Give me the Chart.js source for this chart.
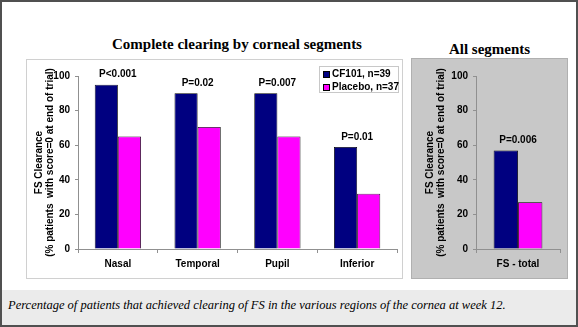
<!DOCTYPE html>
<html lang="en">
<head>
<meta charset="UTF-8">
<title>Complete clearing by corneal segments</title>
<script src="https://cdn.jsdelivr.net/npm/chart.js"></script>
<style>
    body { margin: 0; width: 578px; height: 327px; overflow: hidden; background: #fff; font-family: Arial, "Liberation Sans", sans-serif; }
    #frame { position: absolute; left: 0; top: 0; width: 574px; height: 323px; border: 2px solid #505050; background: #fff; }
    .title { position: absolute; font-family: "Times New Roman", "Liberation Serif", serif; font-weight: bold; font-size: 15px; color: #000; text-align: center; }
    #leftPanel { position: absolute; left: 24px; top: 57px; width: 375px; height: 218px; border: 1px solid #d0d0d0; background: #fff; }
    #rightPanel { position: absolute; left: 409px; top: 56px; width: 155px; height: 219px; border: 1px solid #b0b0b0; background: #c8c8c8; }
    #caption { position: absolute; left: 0; top: 288px; width: 574px; height: 35px; background: #ebebeb; }
    #caption span { position: absolute; left: 6px; top: 8px; font-family: "Times New Roman", "Liberation Serif", serif; font-style: italic; font-size: 12.5px; color: #000; }
    #legend { position: absolute; left: 292px; top: 6px; width: 80px; height: 27px; border: 1px solid #c8c8c8; background: #fff; font-size: 10px; font-weight: bold; padding: 0 0 0 3px; box-sizing: border-box; }
    #legend div { height: 12.5px; line-height: 13px; white-space: nowrap; }
    #legend i { display: inline-block; width: 7px; height: 7px; border: 1px solid #000; margin-right: 2px; vertical-align: -1px; box-sizing: border-box; }
</style>
</head>
<body>
<div id="frame">
    <div class="title" style="left: 100px; top: 34px; width: 270px;">Complete clearing by corneal segments</div>
    <div class="title" style="left: 409px; top: 39px; width: 157px;">All segments</div>
    <div id="leftPanel">
        <canvas id="segChart" width="375" height="218"></canvas>
        <div id="legend"></div>
    </div>
    <div id="rightPanel">
        <canvas id="totalChart" width="155" height="219"></canvas>
    </div>
    <div id="caption"><span>Percentage of patients that achieved clearing of FS in the various regions of the cornea at week 12.</span></div>
</div>

<script>
    // values
    const segments = ["Nasal", "Temporal", "Pupil", "Inferior"];
    const cf101Seg = [95, 90, 90, 59];
    const placeboSeg = [65, 70.5, 65, 32];
    const segPValues = ["P<0.001", "P=0.02", "P=0.007", "P=0.01"];

    const totalLabels = ["FS - total"];
    const cf101Total = [57];
    const placeboTotal = [27];
    const totalPValues = ["P=0.006"];

    const seriesNames = ["CF101, n=39", "Placebo, n=37"];
    const seriesColors = ["#000080", "#ff00ff"];
    const yTicks = [0, 20, 40, 60, 80, 100];

    const axisTitle = ["FS Clearance", "(% patients  with score=0 at end of trial)"];

    // draw the p-value text above the tallest bar of each category
    const pValuePlugin = {
        id: "pvalues",
        afterDatasetsDraw(chart, args, opts) {
            const ctx = chart.ctx;
            const y = chart.scales.y;
            const x = chart.scales.x;
            ctx.save();
            ctx.font = "bold 10px Arial";
            ctx.fillStyle = "#000";
            ctx.textAlign = "center";
            ctx.textBaseline = "bottom";
            opts.labels.forEach((txt, i) => {
                const top = Math.max(...chart.data.datasets.map(d => d.data[i]));
                ctx.fillText(txt, x.getPixelForValue(i), y.getPixelForValue(top) - 5);
            });
            ctx.restore();
        }
    };

    function makeChart(id, labels, cf, pl, pvals, yWidth, pad) {
        return new Chart(document.getElementById(id), {
            type: "bar",
            data: {
                labels: labels,
                datasets: [
                    { label: seriesNames[0], data: cf, backgroundColor: seriesColors[0], borderColor: "#000", borderWidth: 0.8 },
                    { label: seriesNames[1], data: pl, backgroundColor: seriesColors[1], borderColor: "#000", borderWidth: 0.8 }
                ]
            },
            options: {
                responsive: false,
                animation: false,
                datasets: { bar: { categoryPercentage: 0.58, barPercentage: 1 } },
                layout: { padding: pad },
                plugins: {
                    legend: { display: false },
                    tooltip: { enabled: false },
                    pvalues: { labels: pvals }
                },
                scales: {
                    x: {
                        grid: { display: true, drawOnChartArea: false, offset: true, tickLength: 4, color: "#909090" },
                        border: { color: "#909090" },
                        ticks: { color: "#000", font: { family: "Arial", size: 10, weight: "bold" }, padding: 5 },
                        afterFit: s => { s.height = 29; }
                    },
                    y: {
                        min: 0, max: 100,
                        afterBuildTicks: s => { s.ticks = yTicks.map(v => ({ value: v })); },
                        grid: { display: true, drawOnChartArea: false, tickLength: 3, color: "#909090" },
                        border: { color: "#909090" },
                        ticks: { color: "#000", font: { family: "Arial", size: 10, weight: "bold" }, padding: 5 },
                        title: { display: true, text: axisTitle, color: "#000", font: { family: "Arial", size: 10, weight: "bold", lineHeight: 1.15 }, padding: 0 },
                        afterFit: s => { s.width = yWidth; }
                    }
                }
            },
            plugins: [pValuePlugin]
        });
    }

    makeChart("segChart", segments, cf101Seg, placeboSeg, segPValues, 45, { top: 16, right: 5, left: 6, bottom: 0 });
    makeChart("totalChart", totalLabels, cf101Total, placeboTotal, totalPValues, 52, { top: 17, right: 7, left: 12, bottom: 0 });

    // legend built from the series
    const legend = document.getElementById("legend");
    seriesNames.forEach((name, i) => {
        const row = document.createElement("div");
        row.innerHTML = '<i style="background:' + seriesColors[i] + '"></i>' + name;
        legend.appendChild(row);
    });
</script>
</body>
</html>
